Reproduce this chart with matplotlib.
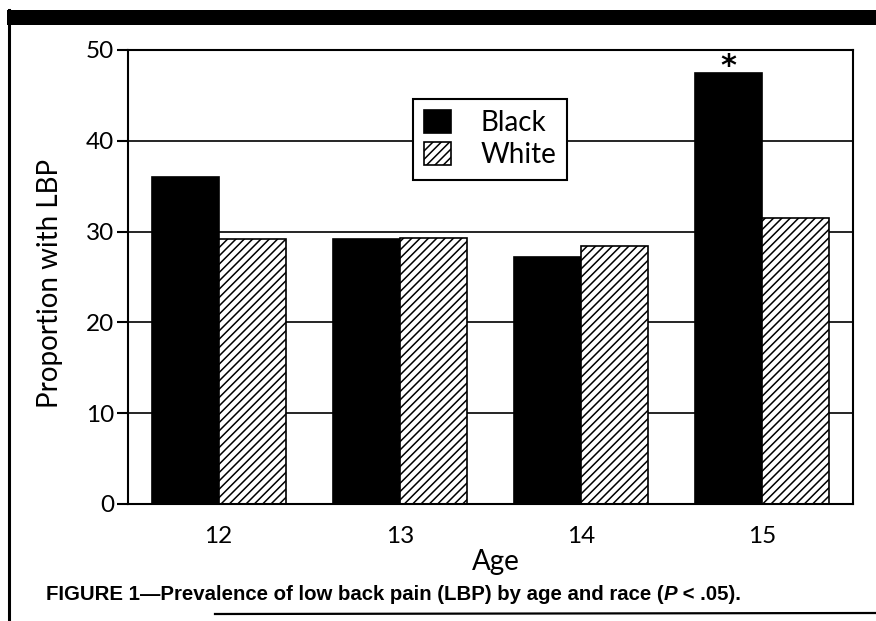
import matplotlib
matplotlib.use("Agg")
import matplotlib.pyplot as plt
from matplotlib import font_manager
from matplotlib.patches import Rectangle, Patch
from matplotlib.lines import Line2D
import numpy as np

# ---- data ----
ages = ["12", "13", "14", "15"]
black = [36.0, 29.2, 27.2, 47.5]
white = [29.2, 29.3, 28.4, 31.5]
series_names = ["Black", "White"]
yticks = [0, 10, 20, 30, 40, 50]
caption_a = "FIGURE 1\u2014Prevalence of low back pain (LBP) by age and race ("
caption_b = "P"
caption_c = " < .05)."

names = {f.name for f in font_manager.fontManager.ttflist}
cap_font = "Liberation Sans Narrow" if "Liberation Sans Narrow" in names else "Liberation Sans"
main_font = "Lato" if "Lato" in names else "DejaVu Sans"

plt.rcParams["font.family"] = [main_font, "DejaVu Sans"]
plt.rcParams["hatch.linewidth"] = 1.1

W, H = 876, 621
fig = plt.figure(figsize=(W / 100, H / 100), dpi=100)
ax = fig.add_axes([128 / W, 1 - 504 / H, (853 - 128) / W, (504 - 50) / H])

x = np.arange(len(ages))
bw = 0.37
ax.bar(x - bw / 2, black, bw, color="black", edgecolor="black", linewidth=1.2, zorder=3)
ax.bar(x + bw / 2, white, bw, color="white", edgecolor="black", hatch="////", linewidth=1.2, zorder=3)

ax.set_xlim(-0.5, 3.5)
ax.set_ylim(0, 50)
ax.set_yticks(yticks)
ax.set_xticks(x)
ax.set_xticklabels(ages)
ax.tick_params(axis="x", length=0, pad=16, labelsize=17.5)
ax.tick_params(axis="y", length=8, width=1.5, pad=2, labelsize=17.5, direction="out")
for s in ax.spines.values():
    s.set_linewidth(1.5)
    s.set_zorder(4)
ax.yaxis.grid(True, color="black", linewidth=1.2, zorder=0)
ax.set_axisbelow(True)

ax.set_xlabel("Age", fontsize=20, va="top")
ax.xaxis.set_label_coords(0.508, -0.099)
ax.set_ylabel("Proportion with LBP", fontsize=20, va="center")
ax.yaxis.set_label_coords(-0.107, 0.485)

# significance star
ax.annotate("*", xy=(x[3] - bw / 2, black[3]), xytext=(0, -6), textcoords="offset points",
            ha="center", va="bottom", fontsize=22, fontweight="bold", family="DejaVu Sans")

handles = [Patch(facecolor="black", edgecolor="black", linewidth=1.2),
           Patch(facecolor="white", edgecolor="black", hatch="////", linewidth=1.2)]
leg = ax.legend(handles, series_names, loc="upper left", bbox_to_anchor=(0.393, 0.892),
                borderaxespad=0, fontsize=20, handlelength=0.97, handleheight=0.9,
                handletextpad=1.05, labelspacing=0.22, borderpad=0.4, fancybox=False,
                framealpha=1, frameon=True)
leg.get_frame().set_edgecolor("black")
leg.get_frame().set_linewidth(1.5)
leg.set_zorder(5)

# page frame decorations
fig.add_artist(Rectangle((7 / W, 1 - 25 / H), 1 - 7 / W, 15 / H, transform=fig.transFigure,
                         facecolor="black", edgecolor="none"))
fig.add_artist(Line2D([8.5 / W, 8.5 / W], [0, 1 - 10 / H], transform=fig.transFigure,
                      color="black", linewidth=2.2))
fig.add_artist(Line2D([215 / W, 1], [1 - 614 / H, 1 - 613 / H], transform=fig.transFigure,
                      color="black", linewidth=1.6))

# caption in three pieces (italic P)
cy = 1 - 595 / H
fs = 14.7
t1 = fig.text(46 / W, cy, caption_a, family=[cap_font, "DejaVu Sans"], fontweight="bold",
              fontsize=fs, va="center", ha="left")
fig.canvas.draw()
r = fig.canvas.get_renderer()
bb = t1.get_window_extent(r)
t2 = fig.text(bb.x1 / W, cy, caption_b, family=[cap_font, "DejaVu Sans"], fontweight="bold",
              style="italic", fontsize=fs, va="center", ha="left")
bb2 = t2.get_window_extent(r)
t3 = fig.text(bb2.x1 / W, cy, caption_c, family=[cap_font, "DejaVu Sans"], fontweight="bold",
              fontsize=fs, va="center", ha="left")

fig.savefig("out.png", dpi=100)
